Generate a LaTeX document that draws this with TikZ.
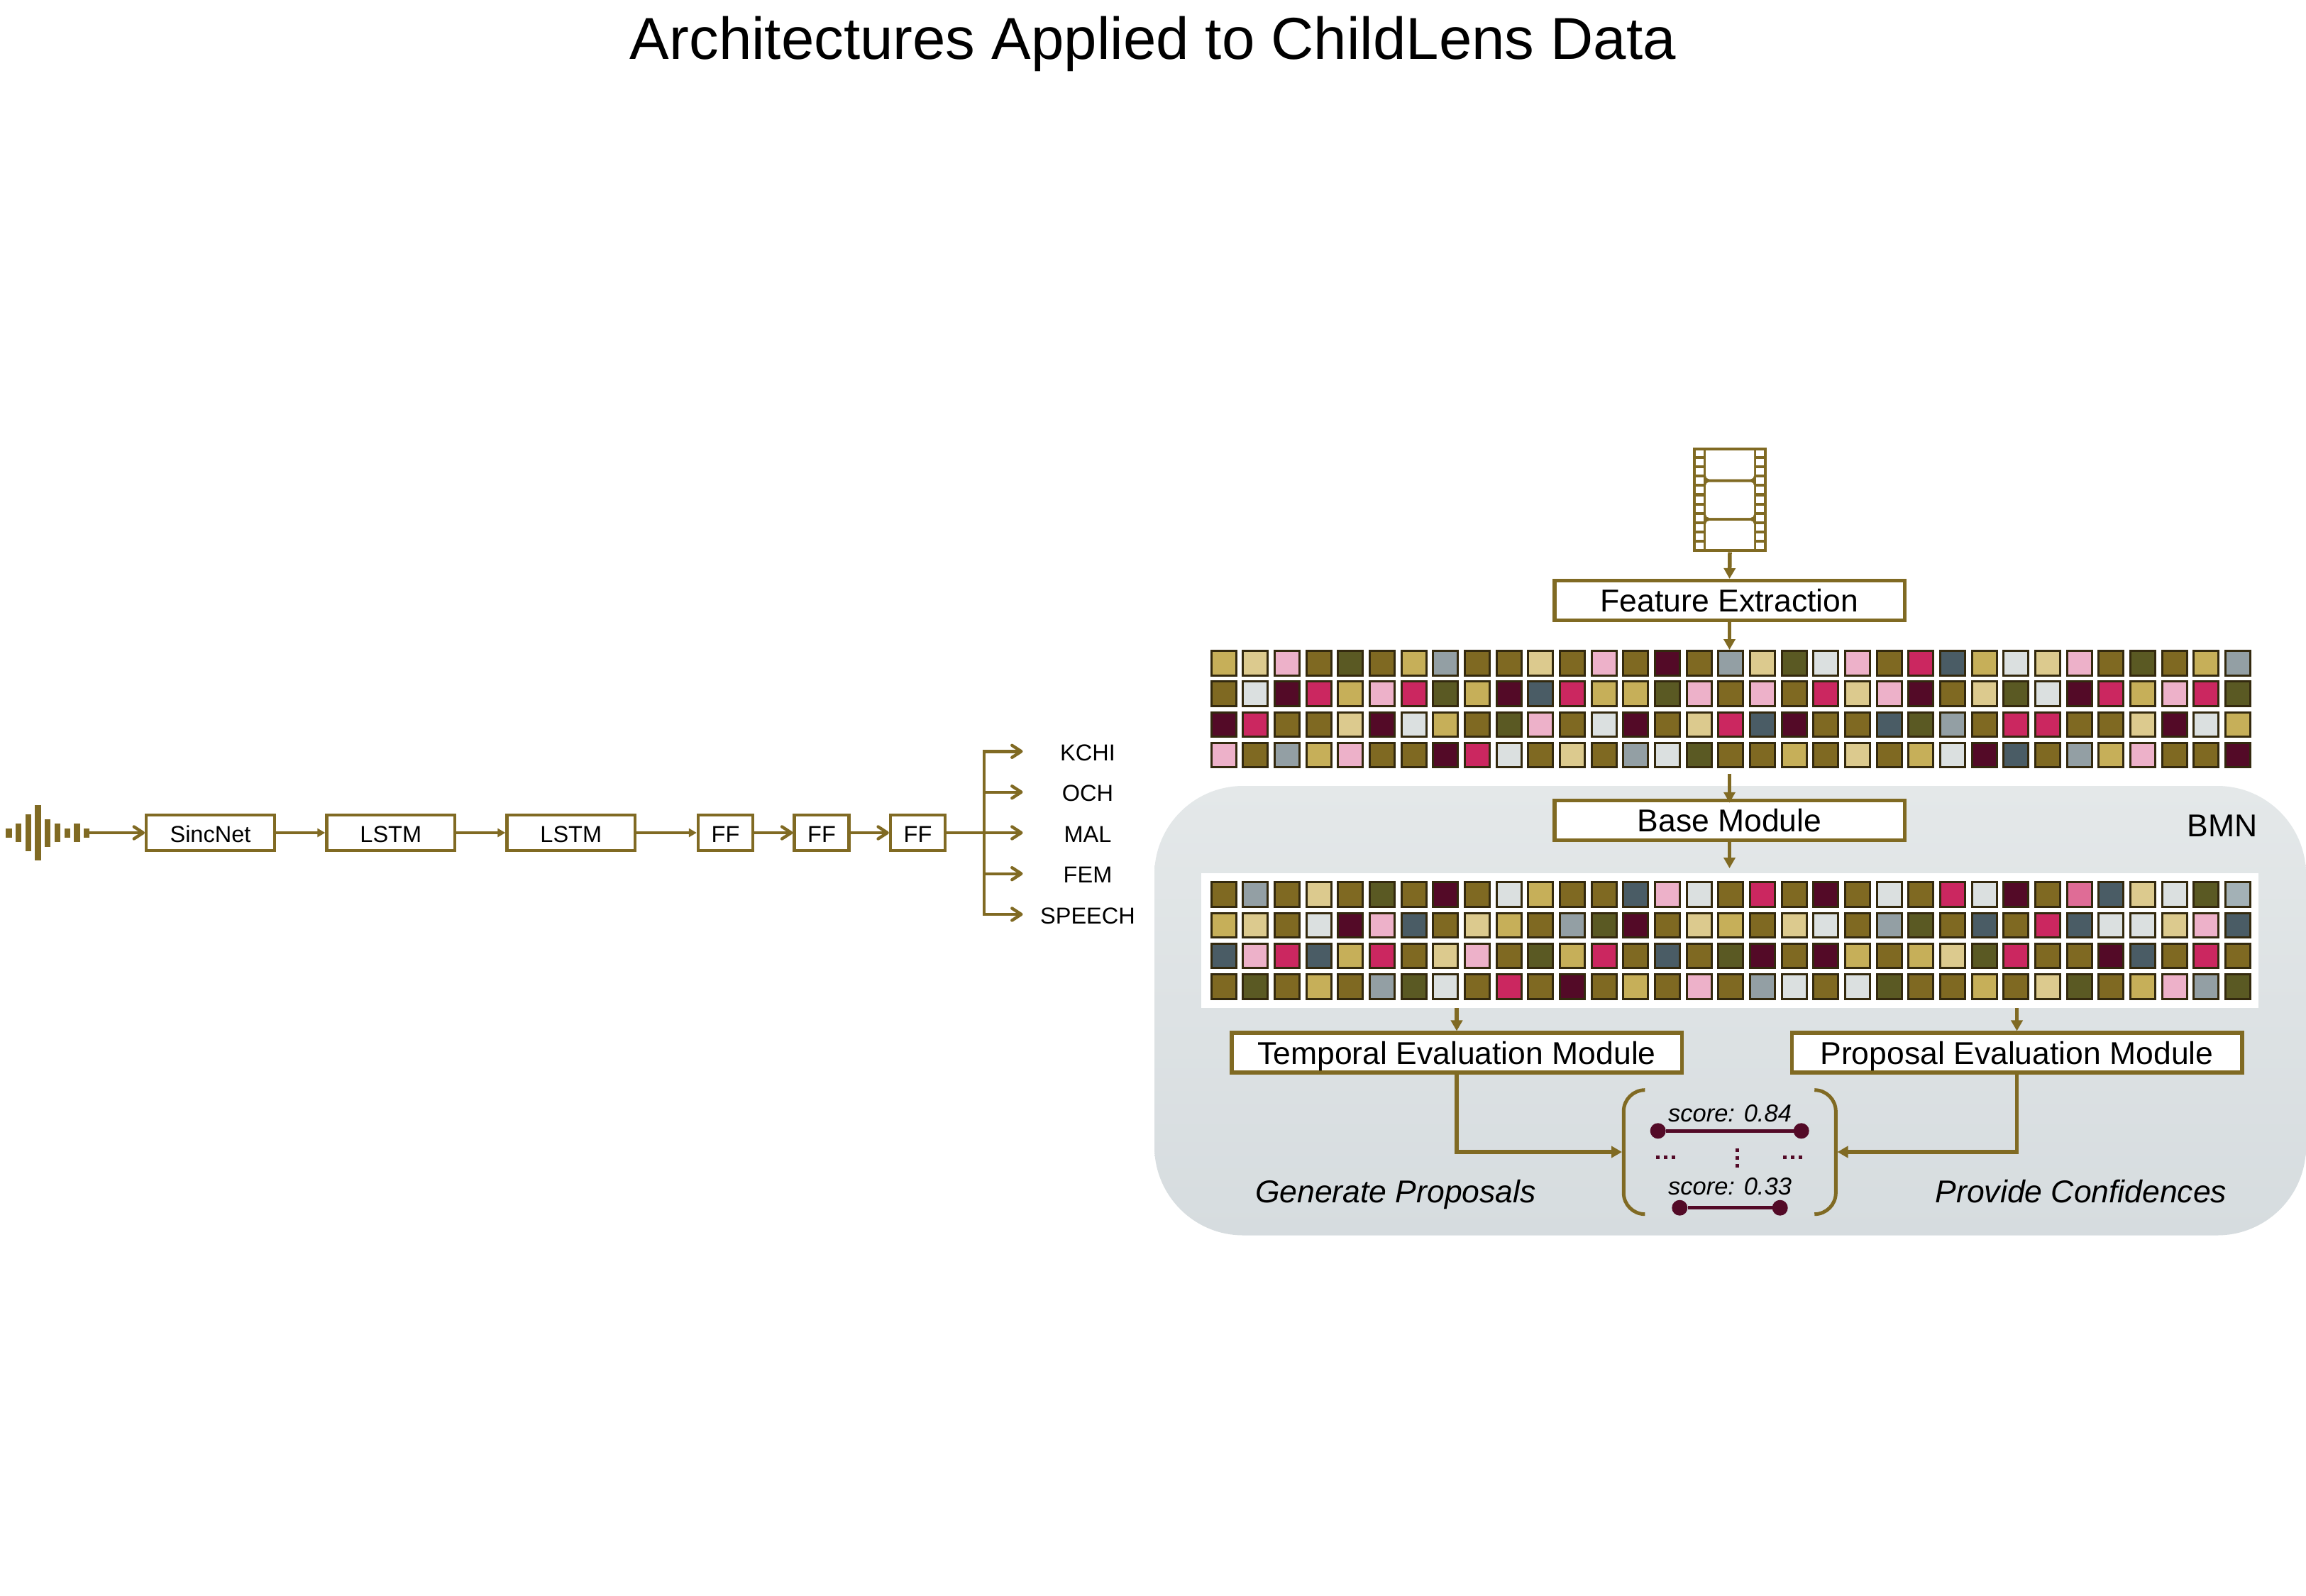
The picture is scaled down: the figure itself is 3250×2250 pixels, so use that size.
\documentclass[tikz,border=0pt]{standalone}
\usepackage{fontspec}
\setmainfont{Liberation Sans}
\usetikzlibrary{arrows.meta}
\definecolor{brn}{HTML}{806A23}
\definecolor{cB}{HTML}{7F6922}
\definecolor{cG}{HTML}{C6AF59}
\definecolor{cT}{HTML}{DCCA8E}
\definecolor{cP}{HTML}{EDB1C9}
\definecolor{cO}{HTML}{5A5923}
\definecolor{cS}{HTML}{939FA4}
\definecolor{cM}{HTML}{530A27}
\definecolor{cR}{HTML}{CB2760}
\definecolor{cL}{HTML}{DBE0E0}
\definecolor{cD}{HTML}{4A5C65}
\definecolor{cK}{HTML}{DF6C96}
\definecolor{cA}{HTML}{A3B1B6}
\definecolor{edgec}{HTML}{33290E}
\definecolor{maro}{HTML}{530A27}
\definecolor{paneltop}{HTML}{E4E8E9}
\definecolor{panelbot}{HTML}{D6DCDF}
\tikzset{
  bigbox/.style={draw=brn,fill=white,line width=5.5pt,inner sep=0pt,minimum height=56pt,text height=32pt,text depth=0pt,font=\fontsize{44.5}{50}\selectfont},
  smallbox/.style={draw=brn,fill=white,line width=4.4pt,inner sep=0pt,minimum height=50pt,text height=26.3pt,text depth=0pt,font=\fontsize{32.5}{38}\selectfont},
  outlab/.style={inner sep=0pt,outer sep=0pt,minimum width=183pt,text height=26.3pt,text depth=0pt,font=\fontsize{32.5}{38}\selectfont},
  plainlab/.style={inner sep=0pt,text height=32pt,text depth=0pt,font=\fontsize{44.5}{50}\selectfont},
  italab/.style={plainlab,font=\fontsize{44.5}{50}\selectfont\itshape},
  scorelab/.style={inner sep=0pt,anchor=base,font=\fontsize{34.5}{40}\selectfont\itshape},
  tri/.style={draw=brn,line width=5.5pt,-{Triangle[length=15pt,width=16pt]}},
  tris/.style={draw=brn,line width=4.4pt,-{Triangle[length=11pt,width=12pt]}},
  barb/.style={draw=brn,line width=4.4pt,line cap=round,-{Straight Barb[round,length=13pt,width=17pt]}},
  dot/.style={circle,fill=maro,inner sep=0pt,minimum size=22pt},
  propline/.style={draw=maro,line width=5.5pt},
  dotsline/.style={draw=maro,line width=5pt,dash pattern=on 5pt off 6pt},
  brack/.style={draw=brn,line width=5pt,rounded corners=30pt},
  cell/.style={draw=edgec,line width=3pt},
}
\newcommand{\cellgrid}[3]{%
  \foreach \rowlist [count=\r from 0] in {#3} {%
    \foreach \cc [count=\i from 0] in \rowlist {%
      \pgfmathsetmacro{\xa}{#1+44.67*\i+1.5}%
      \pgfmathsetmacro{\ya}{#2+43.33*\r+1.5}%
      \pgfmathsetmacro{\xb}{\xa+35}%
      \pgfmathsetmacro{\yb}{\ya+34.5}%
      \draw[cell,fill=c\cc] (\xa,\ya) rectangle (\xb,\yb);
    }%
  }%
}
\begin{document}
\begin{tikzpicture}[x=1pt,y=-1pt]
\useasboundingbox (0,0) rectangle (3250,2250);
\fill[white] (0,0) rectangle (3250,2250);

\node[inner sep=0pt,font=\fontsize{83.4}{90}\selectfont] (title) at (1625,62) {Architectures Applied to ChildLens Data};

% audio wave
\foreach \xl/\h in {8.3/13,22/26.5,35.7/52,49.3/77.5,63/39,76.7/26.5,90.7/13,104.3/26.5,118/13}
  \fill[brn] (\xl,1174-\h/2) rectangle (\xl+8.3,1174+\h/2);
\coordinate (wave) at (126,1174);

% left chain
\node[smallbox,minimum width=180.6pt] (sinc) at (296.5,1174) {SincNet};
\node[smallbox,minimum width=180.6pt] (lstma) at (550.8,1174) {LSTM};
\node[smallbox,minimum width=180.6pt] (lstmb) at (804.8,1174) {LSTM};
\node[smallbox,minimum width=77pt] (ffa) at (1022.5,1174) {FF};
\node[smallbox,minimum width=77pt] (ffb) at (1158,1174) {FF};
\node[smallbox,minimum width=77pt] (ffc) at (1293.5,1174) {FF};
\draw[barb] (wave) -- (sinc);
\draw[tris] (sinc) -- (lstma);
\draw[tris] (lstma) -- (lstmb);
\draw[tris] (lstmb) -- (ffa);
\draw[barb] (ffa) -- (ffb);
\draw[barb] (ffb) -- (ffc);

\node[outlab] (kchi) at (1533,1059.3) {KCHI};
\node[outlab] (och) at (1533,1116.7) {OCH};
\node[outlab] (mal) at (1533,1174) {MAL};
\node[outlab] (fem) at (1533,1231.7) {FEM};
\node[outlab] (speech) at (1533,1289) {SPEECH};
\coordinate (bus) at (1387,1174);
\draw[draw=brn,line width=4.4pt] (ffc) -- (bus);
\draw[barb] (bus) |- (kchi);
\draw[barb] (bus) |- (och);
\draw[barb] (bus) -- (mal);
\draw[barb] (bus) |- (fem);
\draw[barb] (bus) |- (speech);

% BMN background
\shade[top color=paneltop,bottom color=panelbot,rounded corners=125pt] (1627,1108) rectangle (3250,1741.5);
\node[plainlab] (bmn) at (3132,1163) {BMN};

% film strip
\node[inner sep=0pt,minimum width=104pt,minimum height=147.6pt,fill=brn] (film) at (2438,704.5) {};
\foreach \n in {0,...,10} {
  \pgfmathsetmacro{\ya}{634+13.1*\n}
  \pgfmathsetmacro{\yb}{\ya+9}
  \fill[white] (2389.5,\ya) rectangle (2401,\yb);
  \fill[white] (2475.3,\ya) rectangle (2486.5,\yb);
}
\fill[white,rounded corners=5pt] (2404,625) -- (2472,625) -- (2472,675.5) -- (2404,675.5) -- cycle;
\fill[white,rounded corners=5pt] (2404,679.5) rectangle (2472,730);
\fill[white,rounded corners=5pt] (2404,734) -- (2472,734) -- (2472,785) -- (2404,785) -- cycle;
\draw[draw=brn,line width=4pt] (2388,632.7) rectangle (2488,776.3);
\fill[white] (2380,625) rectangle (2496,630.7);
\fill[white] (2380,778.3) rectangle (2496,790);

% boxes
\node[bigbox,minimum width=493.5pt] (feat) at (2437.5,846.7) {Feature Extraction};
\node[bigbox,minimum width=493.5pt] (base) at (2437.5,1156.5) {Base Module};
\node[bigbox,minimum width=634.5pt] (tem) at (2053,1484.2) {Temporal Evaluation Module};
\node[bigbox,minimum width=634.5pt] (prop) at (2842.5,1484.2) {Proposal Evaluation Module};

% grids
\node[inner sep=0pt,outer sep=0pt,minimum width=1465pt,minimum height=174.7pt] (grida) at (2438,1003.35) {};
\cellgrid{1705.5}{916}{%
{G,T,P,B,O,B,G,S,B,B,T,B,P,B,M,B,S,T,O,L,P,B,R,D,G,L,T,P,B,O,B,G,S},%
{B,L,M,R,G,P,R,O,G,M,D,R,G,G,O,P,B,P,B,R,T,P,M,B,T,O,L,M,R,G,P,R,O},%
{M,R,B,B,T,M,L,G,B,O,P,B,L,M,B,T,R,D,M,B,B,D,O,S,B,R,R,B,B,T,M,L,G},%
{P,B,S,G,P,B,B,M,R,L,B,T,B,S,L,O,B,B,G,B,T,B,G,L,M,D,B,S,G,P,B,B,M}}

\node[fill=white,inner sep=0pt,outer sep=0pt,minimum width=1490.2pt,minimum height=190.6pt] (panel) at (2437.9,1326) {};
\cellgrid{1705.5}{1242.3}{%
{B,S,B,T,B,O,B,M,B,L,G,B,B,D,P,L,B,R,B,M,B,L,B,R,L,M,B,K,D,T,L,O,A},%
{G,T,B,L,M,P,D,B,T,G,B,S,O,M,B,T,G,B,T,L,B,S,O,B,D,B,R,D,L,L,T,P,D},%
{D,P,R,D,G,R,B,T,P,B,O,G,R,B,D,B,O,M,B,M,G,B,G,T,O,R,B,B,M,D,B,R,B},%
{B,O,B,G,B,S,O,L,B,R,B,M,B,G,B,P,B,S,L,B,L,O,B,B,G,B,T,O,B,G,P,S,O}}

% vertical connectors
\draw[tri] (film.south) -- (feat.north);
\draw[tri] (feat.south) -- (feat.south |- grida.north);
\draw[tri,shorten >=-6pt] (base.north |- grida.south) -- (base.north);
\draw[tri,shorten >=6.7pt] (base.south) -- (base.south |- panel.north);
\draw[tri] (tem.north |- panel.south) -- (tem.north);
\draw[tri] (prop.north |- panel.south) -- (prop.north);

% proposals
\draw[brack] (2317.3,1536.7) -- (2288.3,1536.7) -- (2288.3,1711.7) -- (2317.3,1711.7);
\draw[brack] (2558.3,1536.7) -- (2587.3,1536.7) -- (2587.3,1711.7) -- (2558.3,1711.7);
\coordinate (brl) at (2286,1624);
\coordinate (brr) at (2589.5,1624);
\draw[tri] (tem.south) |- (brl);
\draw[tri] (prop.south) |- (brr);

\node[scorelab] (sa) at (2438,1581.7) {score: 0.84};
\node[scorelab] (sb) at (2438,1684) {score: 0.33};
\node[dot] (pa) at (2336.7,1594.3) {};
\node[dot] (pb) at (2538.7,1594.3) {};
\node[dot] (pc) at (2367.3,1702.7) {};
\node[dot] (pd) at (2508.7,1702.7) {};
\draw[propline] (pa) -- (pb);
\draw[propline] (pc) -- (pd);
\draw[dotsline] (2333.5,1631.7) -- (2362,1631.7);
\draw[dotsline] (2513,1631.7) -- (2541.7,1631.7);
\draw[dotsline] (2448,1619) -- (2448,1647.7);

\node[italab] (gen) at (1967,1679) {Generate Proposals};
\node[italab] (conf) at (2933,1679) {Provide Confidences};
\end{tikzpicture}
\end{document}
